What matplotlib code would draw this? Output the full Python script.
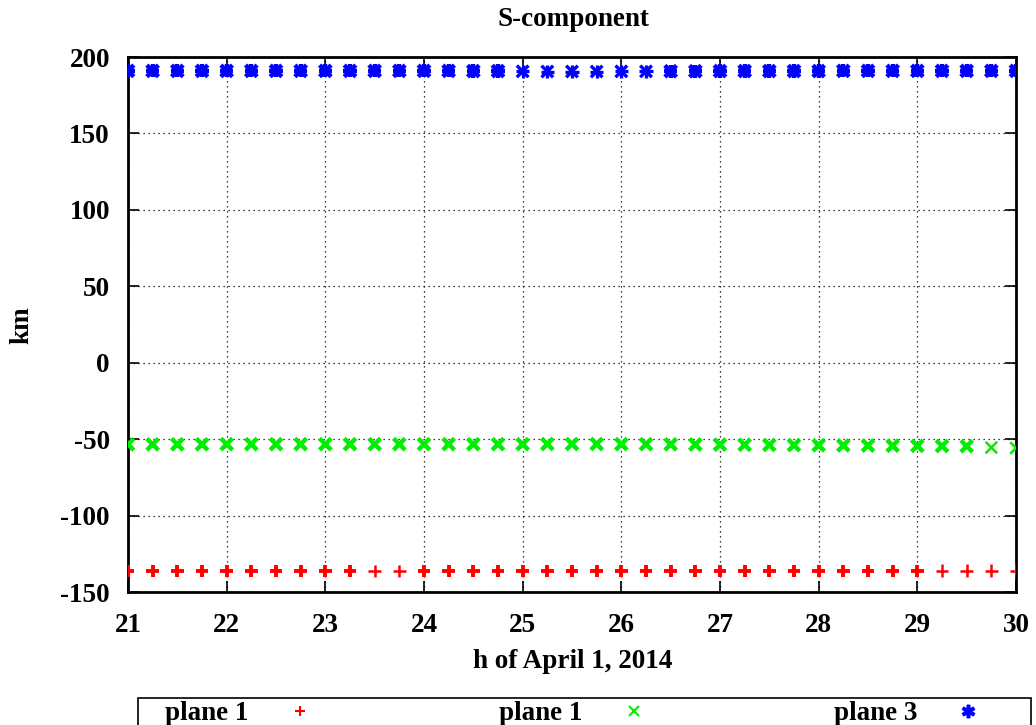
import numpy as np
import matplotlib
matplotlib.use("Agg")
import matplotlib.pyplot as plt
from matplotlib.lines import Line2D
from matplotlib.patches import Rectangle

plt.rcParams['font.family'] = ['Liberation Serif', 'DejaVu Serif']
plt.rcParams['font.weight'] = 'bold'

# ---- data ----
hours = [21.0, 21.25, 21.5, 21.75, 22.0, 22.25, 22.5, 22.75, 23.0, 23.25, 23.5, 23.75,
         24.0, 24.25, 24.5, 24.75, 25.0, 25.25, 25.5, 25.75, 26.0, 26.25, 26.5, 26.75,
         27.0, 27.25, 27.5, 27.75, 28.0, 28.25, 28.5, 28.75, 29.0, 29.25, 29.5, 29.75, 30.0]
plane1_red = [-136.4, -136.4, -136.4, -136.4, -136.4, -136.4, -136.4, -136.4, -136.4, -136.4,
              -136.2, -136.2, -136.3, -136.3, -136.3, -136.3, -136.3, -136.3, -136.3, -136.3,
              -136.3, -136.3, -136.3, -136.2, -136.2, -136.2, -136.2, -136.2, -136.2, -136.2,
              -136.2, -136.2, -136.2, -136.0, -136.0, -136.0, -136.0]
plane1_green = [-53.4, -53.4, -53.4, -53.4, -53.3, -53.3, -53.3, -53.3, -53.3, -53.3,
                -53.3, -53.3, -53.3, -53.3, -53.3, -53.3, -53.3, -53.2, -53.2, -53.2,
                -53.3, -53.3, -53.4, -53.5, -53.6, -53.7, -53.8, -53.9, -54.0, -54.1,
                -54.2, -54.3, -54.4, -54.5, -54.6, -55.5, -55.8]
plane3_blue = [190.9, 190.9, 190.9, 190.9, 190.9, 190.9, 190.9, 190.9, 190.9, 190.9,
               190.9, 190.9, 190.9, 190.9, 190.8, 190.8, 190.6, 190.5, 190.5, 190.5,
               190.6, 190.6, 190.7, 190.7, 190.8, 190.8, 190.8, 190.8, 190.8, 190.9,
               190.9, 190.9, 190.9, 190.9, 190.9, 190.9, 190.9]
# marker stroke weight: 1 = bold (overplotted), 0 = thinner
red_bold = [1]*10 + [0, 0] + [1]*21 + [0, 0, 0, 0]
green_bold = [1]*35 + [0, 0]
blue_bold = [1]*16 + [0]*6 + [1]*15

title = "S-component"
xlabel = "h of April 1, 2014"
ylabel = "km"
labels = ["plane 1", "plane 1", "plane 3"]
xticks = list(range(21, 31))
yticks = list(range(-150, 201, 50))

FS = 19.5
W, H = 1036, 725
fig = plt.figure(figsize=(W/100, H/100), dpi=100)
ax = fig.add_axes([128/W, 1-592/H, (1016-128)/W, (592-57)/H])

def lws(flags, thick, thin):
    return [thick if f else thin for f in flags]

ax.scatter(hours, plane1_red, marker='+', s=80, c='#ff0000',
           linewidths=lws(red_bold, 2.8, 1.8), zorder=3)
ax.scatter(hours, plane1_green, marker='x', s=70, c='#00ee00',
           linewidths=lws(green_bold, 3.2, 1.8), zorder=3)
ax.scatter(hours, plane3_blue, marker='+', s=90, c='#0000ff',
           linewidths=lws(blue_bold, 3.2, 2.4), zorder=3)
ax.scatter(hours, plane3_blue, marker='x', s=70, c='#0000ff',
           linewidths=lws(blue_bold, 3.2, 2.4), zorder=3)

ax.set_xlim(21, 30)
ax.set_ylim(-150, 200)
ax.set_xticks(xticks)
ax.set_yticks(yticks)
ax.set_xticklabels([str(t) for t in xticks])
ax.set_yticklabels([str(t) for t in yticks])
ax.tick_params(direction='in', length=8, width=1.2, top=True, right=True,
               labelsize=FS)
ax.tick_params(axis='y', pad=13)
ax.tick_params(axis='x', pad=15)
for lab in ax.get_xticklabels() + ax.get_yticklabels():
    lab.set_fontweight('bold')
ax.grid(True, linestyle=(0, (1, 3)), color='black', linewidth=0.9)
for sp in ax.spines.values():
    sp.set_linewidth(2)

fig.text(573/W, 1-19/H, title, ha='center', va='center', fontsize=FS, fontweight='bold')
fig.text(573/W, 1-661/H, xlabel, ha='center', va='center', fontsize=FS, fontweight='bold')
fig.text(22/W, 1-325/H, ylabel, ha='center', va='center', fontsize=FS,
         fontweight='bold', rotation=90)

handles = [
    Line2D([], [], linestyle='none', marker='+', color='#ff0000', markersize=7, markeredgewidth=1.5),
    Line2D([], [], linestyle='none', marker='x', color='#00ee00', markersize=7, markeredgewidth=1.5),
    Line2D([], [], linestyle='none', marker='$\u2731$', color='#0000ff', markersize=9),
]
leg = fig.legend(handles, labels, loc='upper left', ncol=3, mode='expand',
                 bbox_to_anchor=(165/W, 1-701/H, (982-165)/W, 0.0),
                 bbox_transform=fig.transFigure,
                 markerfirst=False, frameon=False,
                 prop={'size': FS, 'weight': 'bold'},
                 handlelength=1.0, handletextpad=1.4, borderpad=0.0,
                 borderaxespad=0, columnspacing=1.0)
# legend frame (gnuplot-style key box, running off the bottom of the image)
fig.patches.append(Rectangle((138/W, -0.05), (1031-138)/W, (1-698/H) + 0.05,
                             transform=fig.transFigure, fill=False,
                             edgecolor='black', linewidth=1.2))

fig.savefig("out.png", dpi=100)
